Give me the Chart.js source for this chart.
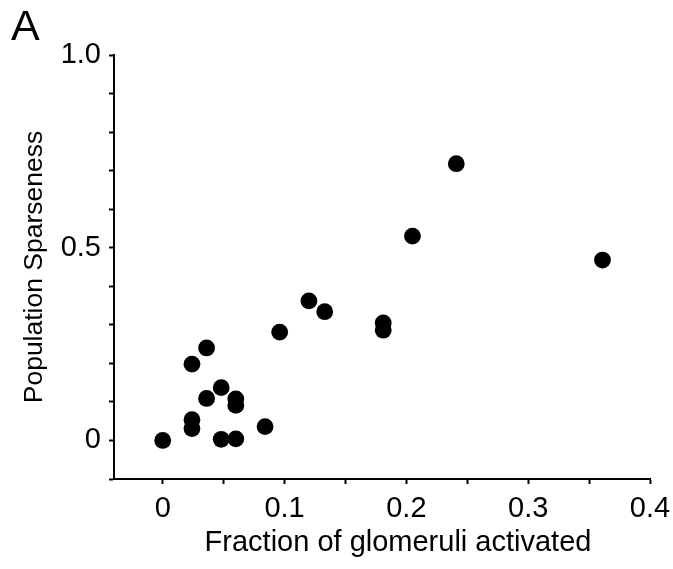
<!DOCTYPE html>
<html>
<head>
<meta charset="utf-8">
<script src="https://cdn.jsdelivr.net/npm/chart.js@4"></script>
<style>
  html, body { margin: 0; padding: 0; background: #fff; }
  #wrap { position: relative; width: 673px; height: 569px; }
  #panel {
    position: absolute; left: 11px; top: 4px;
    font-family: "Liberation Sans", Arial, sans-serif;
    font-size: 43px; color: #000; line-height: 1;
  }
</style>
</head>
<body>
<div id="wrap">
  <canvas id="scatter" width="673" height="569"></canvas>
  <div id="panel">A</div>
</div>
<script>
// fraction of glomeruli activated vs. population sparseness, one point per odorant
const fractionActivated = [0, 0.024, 0.024, 0.024, 0.036, 0.036, 0.048, 0.048, 0.060, 0.060,
                           0.060, 0.084, 0.096, 0.120, 0.133, 0.181, 0.181, 0.205, 0.241, 0.361];
const sparseness = [0, 0.054, 0.031, 0.198, 0.240, 0.109, 0.137, 0.003, 0.108, 0.091,
                    0.004, 0.036, 0.281, 0.362, 0.334, 0.305, 0.286, 0.530, 0.718, 0.468];

// tick marks and which of them get a label
const xTickValues = [0, 0.05, 0.1, 0.15, 0.2, 0.25, 0.3, 0.35, 0.4];
const xTickLabels = ['0', '', '0.1', '', '0.2', '', '0.3', '', '0.4'];
const yTickValues = [-0.1, 0, 0.1, 0.2, 0.3, 0.4, 0.5, 0.6, 0.7, 0.8, 0.9, 1.0];
const yTickLabels = ['', '0', '', '', '', '', '0.5', '', '', '', '', '1.0'];

const xTitle = 'Fraction of glomeruli activated';
const yTitle = 'Population Sparseness';

const points = fractionActivated.map((x, i) => ({ x: x, y: sparseness[i] }));
const fontFamily = '"Liberation Sans", Arial, sans-serif';

// x title sits a little right of the plot centre, so it is drawn by hand
const xTitlePlugin = {
  id: 'xTitle',
  afterDraw(chart) {
    const { ctx, chartArea } = chart;
    ctx.save();
    ctx.font = '29px ' + fontFamily;
    ctx.fillStyle = '#000';
    ctx.textAlign = 'center';
    ctx.textBaseline = 'middle';
    ctx.fillText(xTitle, (chartArea.left + chartArea.right) / 2 + 16, 543);
    ctx.restore();
  }
};

const axisBase = {
  type: 'linear',
  grid: {
    drawOnChartArea: false,
    drawTicks: true,
    tickLength: 5,
    tickWidth: 2,
    tickColor: '#000'
  },
  border: { display: true, width: 2, color: '#000' }
};

new Chart(document.getElementById('scatter').getContext('2d'), {
  type: 'scatter',
  data: {
    datasets: [{
      data: points,
      backgroundColor: '#000',
      borderColor: '#000',
      borderWidth: 0,
      pointRadius: 8.4,
      pointHoverRadius: 8.4
    }]
  },
  options: {
    responsive: false,
    animation: false,
    layout: { padding: { left: 0, right: 23, top: 55, bottom: 0 } },
    plugins: { legend: { display: false }, tooltip: { enabled: false } },
    scales: {
      x: Object.assign({}, axisBase, {
        min: -0.04,
        max: 0.4,
        afterBuildTicks: (scale) => { scale.ticks = xTickValues.map(v => ({ value: v })); },
        afterFit: (scale) => {
          scale.height = 90;
          scale.paddingLeft = 0;
          scale.paddingRight = 0;
        },
        ticks: {
          autoSkip: false,
          maxRotation: 0,
          padding: 8,
          color: '#000',
          font: { family: fontFamily, size: 29 },
          callback: (value, index) => xTickLabels[index]
        }
      }),
      y: Object.assign({}, axisBase, {
        min: -0.1,
        max: 1.0,
        afterBuildTicks: (scale) => { scale.ticks = yTickValues.map(v => ({ value: v })); },
        afterFit: (scale) => {
          scale.width = 114;
          scale.paddingTop = 0;
          scale.paddingBottom = 0;
        },
        ticks: {
          autoSkip: false,
          padding: 8,
          color: '#000',
          font: { family: fontFamily, size: 29 },
          callback: (value, index) => yTickLabels[index]
        },
        title: {
          display: true,
          text: yTitle,
          color: '#000',
          font: { family: fontFamily, size: 26.5 },
          padding: { top: 19, bottom: 0 }
        }
      })
    }
  },
  plugins: [xTitlePlugin]
});
</script>
</body>
</html>
